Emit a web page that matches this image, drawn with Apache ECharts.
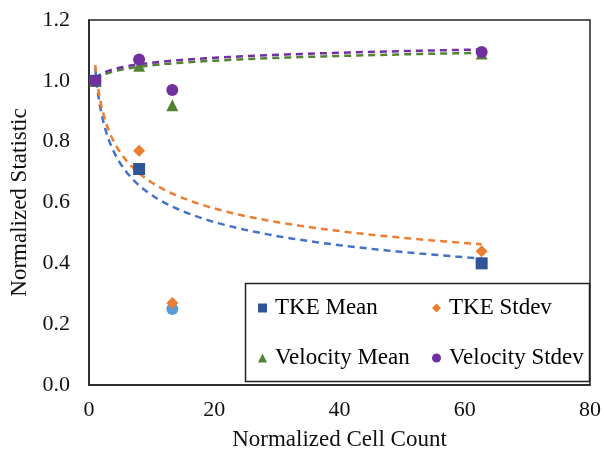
<!DOCTYPE html>
<html>
<head>
<meta charset="utf-8">
<script src="https://cdn.jsdelivr.net/npm/echarts@6/dist/echarts.min.js"></script>
<style>
  html, body { margin: 0; padding: 0; background: #fff; }
  #chart { width: 604px; height: 457px; }
</style>
</head>
<body>
<div id="chart"></div>
<script>
// Mesh cases used for the power-law trend fits
const cellCounts = [1, 8, 62.7];
const tkeMean = [1.00, 0.71, 0.40];
const tkeStdev = [1.00, 0.77, 0.44];
const velocityMean = [1.00, 1.05, 1.09];
const velocityStdev = [1.00, 1.07, 1.095];

// Extra case shown but left out of the fits
const extraCellCount = 13.3;
const tkeMeanExtra = 0.25;
const tkeStdevExtra = 0.27;
const velocityMeanExtra = 0.92;
const velocityStdevExtra = 0.97;

// Axis ticks
const xTicks = [0, 20, 40, 60, 80];
const yTicks = [0.0, 0.2, 0.4, 0.6, 0.8, 1.0, 1.2];

const FONT = '"Liberation Serif", "Times New Roman", serif';
const DIAMOND = 'path://M0,5 L5,0 L10,5 L5,10 Z';

// Least-squares power fit y = a * x^b (as a spreadsheet "power" trendline)
function powerFit(xs, ys) {
  const lx = xs.map(Math.log), ly = ys.map(Math.log);
  const n = xs.length;
  const mx = lx.reduce((s, v) => s + v, 0) / n;
  const my = ly.reduce((s, v) => s + v, 0) / n;
  let sxy = 0, sxx = 0;
  for (let i = 0; i < n; i++) {
    sxy += (lx[i] - mx) * (ly[i] - my);
    sxx += (lx[i] - mx) * (lx[i] - mx);
  }
  const b = sxy / sxx;
  const a = Math.exp(my - b * mx);
  return { a, b };
}

function trendCurve(xs, ys) {
  const { a, b } = powerFit(xs, ys);
  const x0 = Math.min(...xs), x1 = Math.max(...xs);
  const pts = [];
  const steps = 120;
  for (let i = 0; i <= steps; i++) {
    // log spacing keeps the steep start smooth
    const x = Math.exp(Math.log(x0) + (Math.log(x1) - Math.log(x0)) * i / steps);
    pts.push([x, a * Math.pow(x, b)]);
  }
  return pts;
}

const pairs = (xs, ys) => xs.map((x, i) => [x, ys[i]]);

const C = {
  tkeMean: '#2F5597',
  tkeMeanLine: '#4472C4',
  tkeStdev: '#ED7D31',
  velMean: '#548235',
  velStdev: '#7030A0',
  extra: '#5B9BD5'
};

function trendSeries(name, xs, ys, color, z) {
  return {
    name: name + ' trend',
    type: 'line',
    data: trendCurve(xs, ys),
    showSymbol: false,
    symbol: 'none',
    smooth: false,
    silent: true,
    z: z,
    lineStyle: { color: color, width: 2.5, type: [7, 5] }
  };
}

function pointSeries(name, data, symbol, size, color) {
  return {
    name: name,
    type: 'scatter',
    data: data,
    symbol: symbol,
    symbolSize: size,
    itemStyle: { color: color, opacity: 1 },
    z: 10
  };
}

const chart = echarts.init(document.getElementById('chart'), null, { renderer: 'canvas' });

const legendText = {
  fontFamily: FONT, fontSize: 23, color: '#000', lineHeight: 24,
  padding: [0, 0, 0, 3]
};

chart.setOption({
  animation: false,
  backgroundColor: '#fff',
  grid: {
    left: 88, right: 12, top: 20, bottom: 72,
    show: true, borderColor: '#222', borderWidth: 1.5, backgroundColor: 'transparent'
  },
  xAxis: {
    type: 'value',
    min: xTicks[0], max: xTicks[xTicks.length - 1], interval: 20,
    name: 'Normalized Cell Count',
    nameLocation: 'middle',
    nameGap: 43,
    nameTextStyle: { fontFamily: FONT, fontSize: 23, color: '#111' },
    axisLine: { show: true, lineStyle: { color: '#222', width: 1.5 } },
    axisTick: { show: false },
    splitLine: { show: false },
    axisLabel: { fontFamily: FONT, fontSize: 22, color: '#111', margin: 14 }
  },
  yAxis: {
    type: 'value',
    min: yTicks[0], max: yTicks[yTicks.length - 1], interval: 0.2,
    name: 'Normalized Statistic',
    nameLocation: 'middle',
    nameGap: 58,
    nameTextStyle: { fontFamily: FONT, fontSize: 23, color: '#111' },
    axisLine: { show: true, lineStyle: { color: '#222', width: 1.5 } },
    axisTick: { show: false },
    splitLine: { show: false },
    axisLabel: {
      fontFamily: FONT, fontSize: 22, color: '#111', margin: 19,
      formatter: v => v.toFixed(1)
    }
  },
  graphic: [{
    type: 'rect',
    shape: { x: 245.5, y: 283.5, width: 344, height: 98 },
    style: { fill: '#fff', stroke: '#222', lineWidth: 1.5 },
    z: 50
  }],
  legend: [{
    orient: 'vertical',
    left: 253, top: 291,
    itemWidth: 9, itemHeight: 9, itemGap: 26,
    textStyle: legendText,
    z: 60,
    data: [
      { name: 'TKE Mean', icon: 'rect' },
      { name: 'Velocity Mean', icon: 'triangle' }
    ]
  }, {
    orient: 'vertical',
    left: 427, top: 291,
    itemWidth: 9, itemHeight: 9, itemGap: 26,
    textStyle: legendText,
    z: 60,
    data: [
      { name: 'TKE Stdev', icon: DIAMOND },
      { name: 'Velocity Stdev', icon: 'circle' }
    ]
  }],
  series: [
    trendSeries('TKE Mean', cellCounts, tkeMean, C.tkeMeanLine, 3),
    trendSeries('TKE Stdev', cellCounts, tkeStdev, C.tkeStdev, 4),
    trendSeries('Velocity Mean', cellCounts, velocityMean, C.velMean, 5),
    trendSeries('Velocity Stdev', cellCounts, velocityStdev, C.velStdev, 6),
    pointSeries('TKE Mean', pairs(cellCounts, tkeMean), 'rect', 12, C.tkeMean),
    pointSeries('TKE Stdev', pairs(cellCounts, tkeStdev), DIAMOND, 12, C.tkeStdev),
    pointSeries('Velocity Mean', pairs(cellCounts, velocityMean), 'triangle', 12, C.velMean),
    pointSeries('Velocity Stdev', pairs(cellCounts, velocityStdev), 'circle', 12, C.velStdev),
    pointSeries('TKE Mean (excluded)', [[extraCellCount, tkeMeanExtra]], 'circle', 12, C.extra),
    pointSeries('TKE Stdev (excluded)', [[extraCellCount, tkeStdevExtra]], DIAMOND, 12, C.tkeStdev),
    pointSeries('Velocity Mean (excluded)', [[extraCellCount, velocityMeanExtra]], 'triangle', 12, C.velMean),
    pointSeries('Velocity Stdev (excluded)', [[extraCellCount, velocityStdevExtra]], 'circle', 12, C.velStdev)
  ]
});
</script>
</body>
</html>
